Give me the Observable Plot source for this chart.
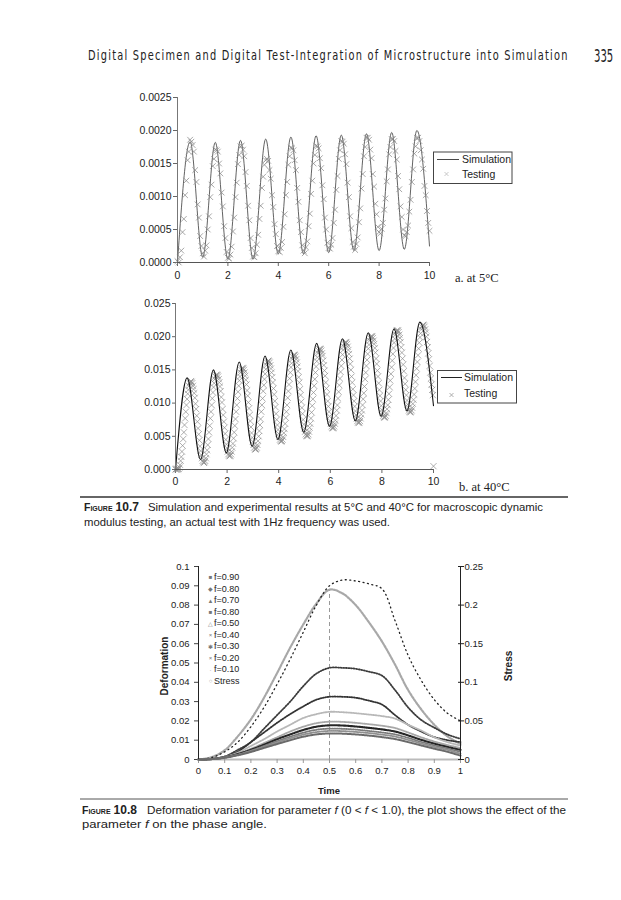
<!DOCTYPE html>
<html><head><meta charset="utf-8">
<script src="https://cdn.jsdelivr.net/npm/d3@7"></script>
<script src="https://cdn.jsdelivr.net/npm/@observablehq/plot@0.6"></script>
<style>
html,body{margin:0;padding:0;background:#fff;}
#page{position:relative;width:621px;height:900px;overflow:hidden;background:#fff;}
.chart{position:absolute;left:0;}
.chart svg{background:transparent !important;}
#overlay{position:absolute;left:0;top:0;pointer-events:none;}
</style></head>
<body><div id="page">
<div id="c1" class="chart" style="top:80px"></div>
<div id="c2" class="chart" style="top:286px"></div>
<div id="c3" class="chart" style="top:555px"></div>
<svg id="overlay" width="621" height="900" xmlns="http://www.w3.org/2000/svg">
  <g font-family="'DejaVu Sans','Liberation Sans',sans-serif" fill="#222">
    <g transform="translate(88,60) scale(0.7,1)">
      <text x="0" y="0" font-size="14" textLength="685" lengthAdjust="spacing">Digital Specimen and Digital Test-Integration of Microstructure into Simulation</text>
    </g>
    <g transform="translate(594,62) scale(0.56,1)">
      <text x="0" y="0" font-size="18">335</text>
    </g>
  </g>
  <g font-family="'Liberation Sans',Arial,sans-serif" font-size="10.5" fill="#222">
    <rect x="433.5" y="152" width="78.5" height="31.5" fill="#fff" stroke="#444" stroke-width="1"/>
    <line x1="437" x2="459" y1="159.5" y2="159.5" stroke="#333" stroke-width="0.9"/>
    <text x="462" y="163.3">Simulation</text>
    <path d="M444.5,172 l4,4 M448.5,172 l-4,4" stroke="#bbb" stroke-width="0.8"/>
    <text x="462" y="178">Testing</text>
    <rect x="437.5" y="370.5" width="79" height="32.5" fill="#fff" stroke="#444" stroke-width="1"/>
    <line x1="441" x2="462" y1="377.5" y2="377.5" stroke="#222" stroke-width="1"/>
    <text x="464" y="381.3">Simulation</text>
    <path d="M449.5,393 l4,4 M453.5,393 l-4,4" stroke="#999" stroke-width="0.8"/>
    <text x="464" y="397.3">Testing</text>
  </g>
  <g font-family="'Liberation Serif','Times New Roman',serif" font-size="12.5" fill="#222">
    <text x="455" y="281.5">a. at 5°C</text>
    <text x="459" y="490.5">b. at 40°C</text>
  </g>
  <line x1="80" x2="568" y1="497" y2="497" stroke="#333" stroke-width="1.3"/>
  <line x1="80" x2="568" y1="799" y2="799" stroke="#555" stroke-width="1"/>
  <g font-family="'Liberation Sans',Arial,sans-serif" font-size="11.3" fill="#222">
    <text x="84" y="511"><tspan font-weight="bold" font-size="10.5" font-variant="small-caps">Figure</tspan><tspan font-weight="bold" font-size="12" dx="3">10.7</tspan></text>
    <text x="148" y="511" textLength="395" lengthAdjust="spacingAndGlyphs">Simulation and experimental results at 5°C and 40°C for macroscopic dynamic</text>
    <text x="84" y="525.5" textLength="306" lengthAdjust="spacingAndGlyphs">modulus testing, an actual test with 1Hz frequency was used.</text>
    <text x="82" y="814"><tspan font-weight="bold" font-size="10.5" font-variant="small-caps">Figure</tspan><tspan font-weight="bold" font-size="12" dx="3">10.8</tspan></text>
    <text x="147" y="814" textLength="419" lengthAdjust="spacingAndGlyphs">Deformation variation for parameter <tspan font-style="italic">f</tspan> (0 &lt; <tspan font-style="italic">f</tspan> &lt; 1.0), the plot shows the effect of the</text>
    <text x="82" y="828" textLength="185" lengthAdjust="spacingAndGlyphs">parameter <tspan font-style="italic">f</tspan> on the phase angle.</text>
  </g>
  <g font-family="'Liberation Sans',Arial,sans-serif" font-size="10" font-weight="bold" fill="#222">
    <text transform="translate(168,666) rotate(-90)" text-anchor="middle">Deformation</text>
    <text transform="translate(512,666) rotate(-90)" text-anchor="middle">Stress</text>
    <text x="329" y="793.5" text-anchor="middle" font-size="9.5">Time</text>
  </g>
  <g id="leg3" font-family="'Liberation Sans',Arial,sans-serif" font-size="9" fill="#222"></g>
</svg>
</div>
<script>
// ---------- Figure 10.7a (5°C) ----------
const xTicks = [0, 2, 4, 6, 8, 10];
const y5Ticks = [0, 0.0005, 0.0010, 0.0015, 0.0020, 0.0025];
const y5Domain = [0, 0.0025];
const unit5 = 1e-5;
const sim5Time = [0,0.5,1,1.5,2,2.5,3,3.5,4,4.5,5,5.5,6,6.5,7,7.5,8,8.5,9,9.5,10];
const sim5Values = [0,183,8,182,5,185,5,187,13,190,13,192,15,193,18,195,18,197,20,200,25];
const test5Step = 0.05;
const test5Values = [
 2,0,8,18,46,66,102,124,155,168,186,183,178,168,140,122,88,68,40,25,
 14,9,18,26,50,70,99,118,146,157,171,170,168,150,135,106,85,55,37,16,
 7,6,12,24,47,68,99,121,149,163,176,177,171,161,137,116,86,64,37,22,
 9,8,14,27,42,66,86,113,130,148,155,157,154,140,127,102,84,58,43,25,
 17,16,22,31,54,73,102,122,148,161,174,173,170,155,140,113,92,64,46,26,
 18,14,23,32,55,74,104,124,150,163,177,176,173,158,143,117,96,68,50,30,
 22,21,27,37,60,80,110,131,157,170,184,183,180,164,149,121,99,70,52,31,
 24,19,28,38,61,82,112,134,161,175,189,189,186,171,158,134,115,89,73,54,
 46,44,51,60,80,97,123,141,164,175,187,187,184,169,156,131,111,85,69,50,
 41,40,46,56,77,95,122,141,165,176,189,189,184,170,156,142,116,102,78,60,
 48];

// ---------- Figure 10.7b (40°C) ----------
const y40Ticks = [0, 0.005, 0.010, 0.015, 0.020, 0.025];
const y40Domain = [0, 0.025];
const unit40 = 1e-4;
const sim40Time = [0,0.45,0.97,1.47,1.97,2.47,2.97,3.47,3.97,4.47,4.97,5.47,5.97,6.47,6.97,7.47,7.97,8.47,8.97,9.47,10];
const sim40Values = [0,138,15,150,25,162,35,171,45,180,56,190,65,197,73,206,80,212,88,222,96];
const test40Step = 0.025;
const test40Values = [
 0,1,0,1,0,1,3,7,13,19,27,36,46,56,67,77,87,97,106,114,120,126,130,132,133,132,130,126,121,115,108,99,91,81,72,62,53,44,35,28,
 22,17,13,11,10,11,13,17,23,29,37,46,56,66,77,87,97,107,116,124,130,136,140,142,143,142,140,136,131,125,118,109,101,91,82,72,63,54,45,38,
 32,27,23,21,20,21,23,27,33,39,47,56,66,76,87,97,107,117,126,134,140,146,150,152,153,152,150,146,141,135,128,119,111,101,92,82,73,64,55,48,
 42,37,33,31,30,31,33,37,43,50,58,67,76,87,97,107,118,127,136,144,151,157,161,163,164,163,161,157,152,146,139,131,122,113,103,94,84,75,67,60,
 54,49,45,43,42,43,45,49,55,61,69,78,87,97,108,118,128,137,146,154,160,166,170,172,173,172,170,166,161,155,148,139,131,121,112,102,93,84,75,68,
 62,57,53,51,50,51,53,57,63,69,77,86,96,106,116,126,136,146,155,163,169,175,179,181,182,181,179,175,171,164,157,149,141,131,122,113,103,95,87,80,
 73,69,65,63,62,63,65,69,74,81,89,97,107,117,127,137,147,156,165,173,180,185,189,191,192,191,189,185,180,174,167,159,150,140,131,121,112,103,95,88,
 82,77,73,71,70,71,73,77,83,89,97,106,115,125,136,146,156,165,174,182,188,194,198,200,201,200,198,194,189,183,176,167,159,149,140,130,120,111,103,96,
 90,85,81,79,78,79,81,85,91,97,105,114,124,134,144,154,164,174,183,191,197,203,207,209,210,209,207,203,198,192,184,176,167,158,148,138,129,120,112,104,
 98,93,89,87,86,87,89,93,99,105,113,122,132,142,152,162,172,182,191,199,205,211,215,217,218,217,215,211,206,200,192,184,175,166,156,146,137,128,120,112,
 5];

// ---------- Figure 10.8 ----------
const time3Domain = [0, 1];
const defDomain = [0, 0.1];
const stressDomain = [0, 0.25];
const time3Ticks = [0,0.1,0.2,0.3,0.4,0.5,0.6,0.7,0.8,0.9,1];
const defTicks = [0,0.01,0.02,0.03,0.04,0.05,0.06,0.07,0.08,0.09,0.1];
const stressTicks = [0,0.05,0.1,0.15,0.2,0.25];
const time3 = [0,0.05,0.1,0.15,0.2,0.25,0.3,0.35,0.4,0.45,0.5,0.55,0.6,0.65,0.7,0.75,0.8,0.85,0.9,0.95,1];
const defUnit = 1e-3;
const f90 = [0,0.2,0.9,2.2,3.9,6,8,10,11.8,13,13.5,13.4,13,12.4,11.6,10.6,9,7.3,5.6,4,2];
const f80 = [0,0.2,1,2.4,4.3,6.5,8.8,11,12.9,14.2,14.8,14.7,14.3,13.7,12.9,11.9,10.2,8.3,6.5,5,3];
const f70 = [0,0.2,1,2.5,4.6,7,9.5,11.8,13.9,15.4,16,15.9,15.5,14.8,14,13,11.2,9.1,7.3,5.7,4];
const f60 = [0,0.2,1.1,2.8,5,7.7,10.5,13,15.3,17,17.7,17.6,17.1,16.4,15.6,14.5,12.5,10.2,8.2,6.5,5];
const f50 = [0,0.2,1.2,3,5.5,8.5,11.5,14.5,17,18.8,19.6,19.5,19,18.3,17.5,16.3,14,11.5,9.3,7.5,6];
const f40 = [0,0.2,1.3,3.5,7,10.5,14.5,18,21.5,23.5,24.7,24.5,24,23.3,22.5,21.2,18,15,11.5,9,7.2];
const f30 = [0,0.3,1.5,4,9,14,19,23.5,27.5,31,32.5,32.5,32,30.5,28.5,23,18,14.5,11.6,10,9];
const f20 = [0,0.3,1.5,5,9,16,23,30,38,44.5,47.5,47.5,47,45.5,43.5,36,27,20.5,16.5,13,10.7];
const f10 = [0,1,4,9,17,27,39,52,66,80,90,93,92.5,91,88.5,72,54,41,31,24,20];
const stress = [0,0.003,0.012,0.03,0.052,0.08,0.112,0.145,0.175,0.202,0.22,0.215,0.2,0.178,0.153,0.123,0.09,0.065,0.045,0.03,0.02];
const legendNames = ["f=0.90","f=0.80","f=0.70","f=0.80","f=0.50","f=0.40","f=0.30","f=0.20","f=0.10","Stress"];

// ---------- styles ----------
const font = "'Liberation Sans', Arial, sans-serif";
const seriesStyle = [
  {values: f90, stroke: "#6a6a6a", dash: "1.2,0.9", w: 2.0, sym: "■"},
  {values: f80, stroke: "#909090", dash: "1,1", w: 1.8, sym: "◆"},
  {values: f70, stroke: "#7a7a7a", dash: "1,1.3", w: 1.8, sym: "▲"},
  {values: f60, stroke: "#262626", dash: "1.4,0.9", w: 2.1, sym: "■"},
  {values: f50, stroke: "#a8a8a8", dash: "1,1", w: 1.8, sym: "△"},
  {values: f40, stroke: "#b8b8b8", dash: "1.3,1.2", w: 1.8, sym: "×"},
  {values: f30, stroke: "#333", dash: "1,1.4", w: 1.8, sym: "✱"},
  {values: f20, stroke: "#3c3c3c", dash: "1,1.6", w: 1.8, sym: "×"},
  {values: f10, stroke: "#222", dash: "1,3.5", w: 1.3, sym: "·"}
];

const toRows = (ts, vs, u) => vs.map((v, i) => ({t: ts[i], v: v * u}));
const sim5 = toRows(sim5Time, sim5Values, unit5);
const test5 = test5Values.map((v, i) => ({t: i * test5Step, v: v * unit5}));
const sim40 = toRows(sim40Time, sim40Values, unit40);
const test40 = test40Values.map((v, i) => ({t: i * test40Step, v: v * unit40}));

const baseStyle = {fontFamily: font, fontSize: "10.5px", color: "#222", background: "transparent", overflow: "visible"};

const c1 = Plot.plot({
  width: 621, height: 210,
  marginLeft: 177, marginRight: 192, marginTop: 17, marginBottom: 28,
  x: {domain: [xTicks[0], xTicks[xTicks.length-1]]},
  y: {domain: y5Domain},
  style: baseStyle,
  marks: [
    Plot.axisY({ticks: y5Ticks, tickFormat: d => d.toFixed(4), tickSize: 4, tickPadding: 2, label: null, stroke: "#666"}),
    Plot.axisX({ticks: xTicks, tickSize: 4, tickPadding: 5, label: null, stroke: "#666"}),
    Plot.line(sim5, {x: "t", y: "v", curve: "monotone-x", stroke: "#3a3a3a", strokeWidth: 0.8}),
    Plot.dot(test5, {x: "t", y: "v", symbol: "times", r: 2.7, stroke: "#8a8a8a", strokeWidth: 0.75}),
    Plot.ruleX([xTicks[0]], {stroke: "#777", strokeWidth: 1}),
    Plot.ruleY([y5Domain[0]], {stroke: "#555", strokeWidth: 1})
  ]
});
document.getElementById("c1").appendChild(c1);

const c2 = Plot.plot({
  width: 621, height: 210,
  marginLeft: 175, marginRight: 188, marginTop: 17, marginBottom: 27,
  x: {domain: [xTicks[0], xTicks[xTicks.length-1]]},
  y: {domain: y40Domain},
  style: baseStyle,
  marks: [
    Plot.axisY({ticks: y40Ticks, tickFormat: d => d.toFixed(3), tickSize: 3, tickPadding: 2, label: null, stroke: "#666"}),
    Plot.axisX({ticks: xTicks, tickSize: 4, tickPadding: 4, label: null, stroke: "#666"}),
    Plot.dot(test40, {x: "t", y: "v", symbol: "times", r: 2.9, stroke: "#8c8c8c", strokeWidth: 0.7}),
    Plot.line(sim40, {x: "t", y: "v", curve: "monotone-x", stroke: "#111", strokeWidth: 1.1}),
    Plot.ruleX([xTicks[0]], {stroke: "#777", strokeWidth: 1}),
    Plot.ruleY([y40Domain[0]], {stroke: "#555", strokeWidth: 1})
  ]
});
document.getElementById("c2").appendChild(c2);

// Figure 10.8
const ratio = defDomain[1] / stressDomain[1];
const stressRows = toRows(time3, stress, ratio);
const peak = d3.greatest(stressRows, d => d.v);
const fmt = d => String(+d.toFixed(2));
const lineMarks = [];
[...seriesStyle].reverse().forEach(s => {
  lineMarks.push(Plot.line(toRows(time3, s.values, defUnit), {x: "t", y: "v", curve: "catmull-rom",
    stroke: s.stroke, strokeWidth: s.w, strokeDasharray: s.dash}));
});
const c3 = Plot.plot({
  width: 621, height: 245,
  marginLeft: 198, marginRight: 161, marginTop: 11, marginBottom: 41,
  x: {domain: time3Domain},
  y: {domain: defDomain},
  style: {...baseStyle, fontSize: "9.5px"},
  marks: [
    Plot.ruleY([defDomain[0]], {stroke: "#bbb", strokeWidth: 2}),
    Plot.axisX({ticks: time3Ticks, tickFormat: fmt, tickSize: 4, tickPadding: 4, label: null, stroke: "#999"}),
    Plot.axisY({ticks: defTicks, tickFormat: fmt, tickSize: 4, tickPadding: 5, label: null, stroke: "#444"}),
    Plot.axisY(stressTicks.map(s => s * ratio), {anchor: "right", tickSize: 6, dx: -3, tickFormat: () => "", label: null, stroke: "#222"}),
    Plot.axisY(stressTicks.map(s => s * ratio), {anchor: "right", tickSize: 0, tickPadding: 4, tickFormat: d => fmt(d / ratio), label: null}),
    Plot.ruleX([peak], {x: "t", y1: defDomain[0], y2: "v", stroke: "#999", strokeWidth: 1, strokeDasharray: "4,3"}),
    Plot.line(stressRows, {x: "t", y: "v", curve: "catmull-rom", stroke: "#a8a8a8", strokeWidth: 2.2, strokeDasharray: "2,1.4"}),
    ...lineMarks,
    Plot.ruleX([time3Domain[0]], {stroke: "#222", strokeWidth: 1}),
    Plot.ruleX([time3Domain[1]], {stroke: "#222", strokeWidth: 1})
  ]
});
document.getElementById("c3").appendChild(c3);

// legend for Figure 10.8
const leg = document.getElementById("leg3");
const legSyms = [...seriesStyle.map(s => s.sym), "○"];
const legRowY = [579.5, 591.5, 603, 614.5, 626, 637.5, 649, 660.5, 672, 683.5];
legendNames.forEach((name, i) => {
  const sym = document.createElementNS("http://www.w3.org/2000/svg", "text");
  sym.setAttribute("x", 210.5); sym.setAttribute("y", legRowY[i] - 0.5);
  sym.setAttribute("text-anchor", "middle"); sym.setAttribute("font-size", "6");
  sym.setAttribute("fill", i === 9 ? "#999" : "#777");
  sym.textContent = legSyms[i];
  leg.appendChild(sym);
  const t = document.createElementNS("http://www.w3.org/2000/svg", "text");
  t.setAttribute("x", 214); t.setAttribute("y", legRowY[i]);
  t.textContent = name;
  leg.appendChild(t);
});
</script>
</body></html>
